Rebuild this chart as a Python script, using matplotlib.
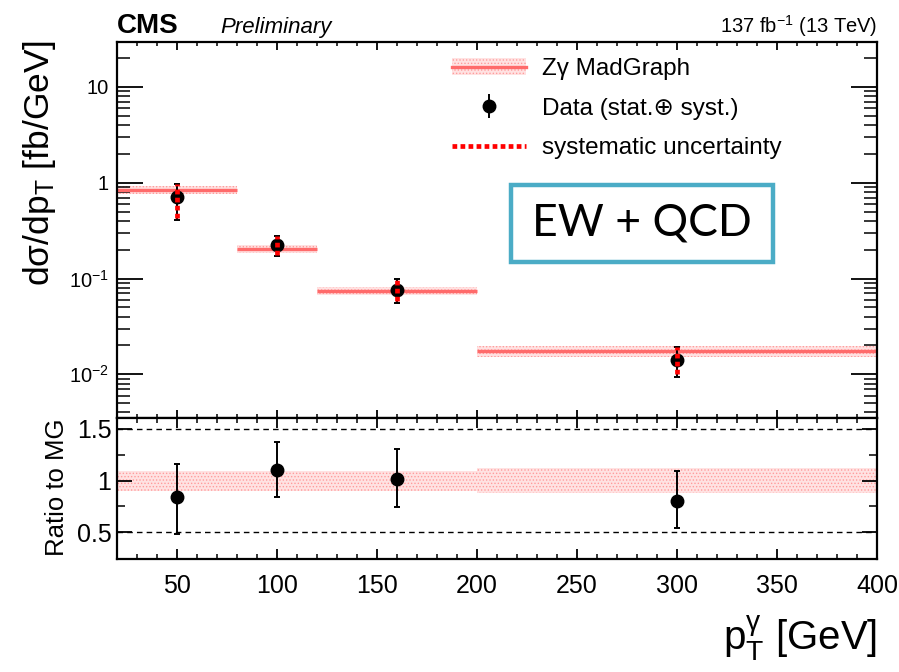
import matplotlib
matplotlib.use("Agg")
import matplotlib.pyplot as plt
import numpy as np
from matplotlib.patches import Patch, Rectangle
from matplotlib.lines import Line2D
from matplotlib.ticker import FixedLocator, MultipleLocator, LogLocator, FuncFormatter, NullFormatter

plt.rcParams['font.family'] = ['Liberation Sans', 'DejaVu Sans']
plt.rcParams['mathtext.fontset'] = 'custom'
plt.rcParams['mathtext.rm'] = 'Liberation Sans'
plt.rcParams['mathtext.it'] = 'Liberation Sans:italic'
plt.rcParams['hatch.linewidth'] = 0.6

# ---- data ----
bin_edges = [20, 80, 120, 200, 400]
bin_centers = [50, 100, 160, 300]
mg_xsec = [0.845, 0.204, 0.075, 0.0175]
mg_rel_unc = [0.097, 0.097, 0.097, 0.123]
data_xsec = [0.71, 0.225, 0.076, 0.014]
data_tot_up = [0.98, 0.279, 0.0986, 0.0193]
data_tot_dn = [0.41, 0.173, 0.056, 0.0094]
data_syst_up = [0.97, 0.277, 0.097, 0.0191]
data_syst_dn = [0.43, 0.176, 0.058, 0.0102]
ratio = [0.839, 1.103, 1.016, 0.806]
ratio_up = [1.158, 1.371, 1.31, 1.097]
ratio_dn = [0.48, 0.845, 0.742, 0.545]

W, H = 899, 672
fig = plt.figure(figsize=(W/100, H/100), dpi=100)
axu = fig.add_axes([117/W, 1-418/H, 760/W, (418-42)/H])
axl = fig.add_axes([117/W, 1-559/H, 760/W, (559-418)/H])

band_face = '#ffe2e2'
band_hatch = '#ff9c9c'
line_col = '#ff6b6b'

# upper panel
for i in range(4):
    lo, hi = bin_edges[i], bin_edges[i+1]
    y = mg_xsec[i]
    r = mg_rel_unc[i]
    axu.fill_between([lo, hi], [y*(1-r)]*2, [y*(1+r)]*2, facecolor=band_face,
                     edgecolor=band_hatch, hatch='.....', linewidth=0, zorder=1)
    axu.hlines(y, lo, hi, color=line_col, lw=2.4, zorder=2)

x = np.array(bin_centers)
yd = np.array(data_xsec)
tot_err = [yd - np.array(data_tot_dn), np.array(data_tot_up) - yd]
axu.errorbar(x, yd, yerr=tot_err, fmt='o', color='black', ms=9, lw=1.4,
             capsize=2.5, capthick=1.4, zorder=4)
for i in range(4):
    axu.vlines(x[i], data_syst_dn[i], data_syst_up[i], color='red', lw=3.4,
               linestyles=(0, (1.0, 0.7)), zorder=5)

axu.set_yscale('log')
axu.set_xlim(20, 400)
axu.set_ylim(0.0035, 29.5)

def logfmt(v, pos):
    if abs(v-10) < 1e-9:
        return '10'
    if abs(v-1) < 1e-9:
        return '1'
    e = int(round(np.log10(v)))
    return r'$10^{%d}$' % e

axu.yaxis.set_major_locator(FixedLocator([0.01, 0.1, 1, 10]))
axu.yaxis.set_major_formatter(FuncFormatter(logfmt))
axu.yaxis.set_minor_locator(LogLocator(base=10, subs=np.arange(2, 10)))
axu.yaxis.set_minor_formatter(NullFormatter())
axu.xaxis.set_major_locator(MultipleLocator(50))
axu.xaxis.set_minor_locator(MultipleLocator(10))
axu.tick_params(axis='x', which='both', labelbottom=False, direction='in', top=True, bottom=True)
axu.tick_params(axis='x', which='major', length=6, width=1.3)
axu.tick_params(axis='x', which='minor', length=3.2, width=1.1)
axu.tick_params(axis='y', which='both', direction='in', left=True, right=True, labelsize=14.5, pad=6)
axu.tick_params(axis='y', which='major', length=19, width=1.3)
axu.tick_params(axis='y', which='minor', length=9.5, width=1.1)
for s in axu.spines.values():
    s.set_linewidth(1.6)

# legend
h_mg = (Patch(facecolor=band_face, edgecolor=band_hatch, hatch='.....', linewidth=0),
        Line2D([], [], color=line_col, lw=2.4))
h_data = axu.errorbar([], [], yerr=[[], []], fmt='o', color='black', ms=9, lw=1.4,
                      capsize=2.5, capthick=1.4)
h_sys = Line2D([], [], color='red', lw=3.4, ls=(0, (1.0, 0.7)))
leg = axu.legend([h_mg, h_data, h_sys],
                 ['Zγ MadGraph', 'Data (stat.⊕ syst.)', 'systematic uncertainty'],
                 loc='upper left', bbox_to_anchor=((452-117)/760, (418-58)/(418-42)),
                 frameon=False, fontsize=17.5, handlelength=3.05, handletextpad=0.66,
                 labelspacing=0.72, borderaxespad=0, borderpad=0)

# EW + QCD box
axu.add_patch(Rectangle(((511-117)/760, (418-262)/(418-42)), (773-511)/760, (262-185)/(418-42),
                        transform=axu.transAxes, fill=False, edgecolor='#4bacc6', lw=3.2, zorder=6))
axu.text((642-117)/760, (418-223)/(418-42), 'EW + QCD', transform=axu.transAxes,
         ha='center', va='center', fontsize=32, family=['Lato', 'DejaVu Sans'], zorder=7)

# lower panel
for i in range(4):
    lo, hi = bin_edges[i], bin_edges[i+1]
    r = mg_rel_unc[i]
    axl.fill_between([lo, hi], [1-r]*2, [1+r]*2, facecolor=band_face,
                     edgecolor=band_hatch, hatch='.....', linewidth=0, zorder=1)
axl.axhline(1.5, color='black', ls=(0, (4, 3)), lw=1.0, zorder=2)
axl.axhline(0.5, color='black', ls=(0, (4, 3)), lw=1.0, zorder=2)
rr = np.array(ratio)
axl.errorbar(x, rr, yerr=[rr - np.array(ratio_dn), np.array(ratio_up) - rr], fmt='o',
             color='black', ms=9, lw=1.4, capsize=2.5, capthick=1.4, zorder=4)
axl.set_xlim(20, 400)
axl.set_ylim(0.242, 1.606)
axl.yaxis.set_major_locator(FixedLocator([0.5, 1.0, 1.5]))
axl.yaxis.set_major_formatter(FuncFormatter(lambda v, p: {0.5: '0.5', 1.0: '1', 1.5: '1.5'}[round(v, 2)]))
axl.yaxis.set_minor_locator(FixedLocator([0.75, 1.25]))
axl.xaxis.set_major_locator(MultipleLocator(50))
axl.xaxis.set_minor_locator(MultipleLocator(10))
axl.tick_params(axis='both', which='both', direction='in', top=True, right=True, labelsize=18)
axl.tick_params(axis='x', which='major', length=7.5, width=1.3, pad=11)
axl.tick_params(axis='x', which='minor', length=3.8, width=1.1)
axl.tick_params(axis='y', which='major', length=11, width=1.3, pad=4)
axl.tick_params(axis='y', which='minor', length=6, width=1.1)
for s in axl.spines.values():
    s.set_linewidth(1.6)

# labels
fig.text(40/W, 1-163/H, 'dσ/dp$_\\mathregular{T}$ [fb/GeV]', rotation=90, ha='center', va='center', fontsize=25.5)
fig.text(57/W, 1-487/H, 'Ratio to MG', rotation=90, ha='center', va='center', fontsize=18.5)
fig.text(877/W, 1-638/H, 'p$_\\mathregular{T}^{\\mathregular{γ}}$ [GeV]', ha='right', va='center', fontsize=29)
fig.text(117/W, 1-33/H, 'CMS', ha='left', va='baseline', fontsize=20, weight='bold')
fig.text(220/W, 1-33/H, 'Preliminary', ha='left', va='baseline', fontsize=16, style='italic')
fig.text(877/W, 1-33/H, '137 fb$^{-1}$ (13 TeV)', ha='right', va='baseline', fontsize=14.5)

fig.savefig('out.png', dpi=100)
